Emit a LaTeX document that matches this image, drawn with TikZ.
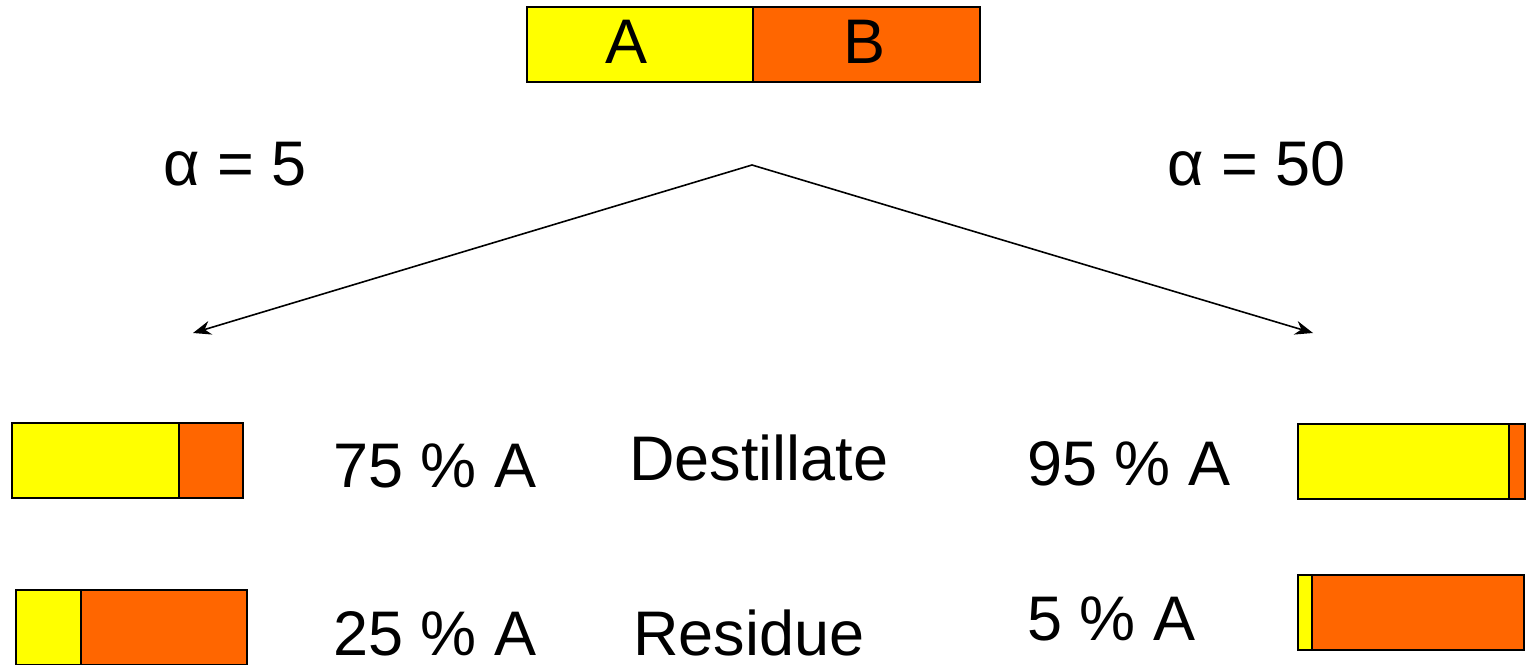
\documentclass[tikz,border=0pt]{standalone}
\usepackage{fontspec}
\setmainfont{Liberation Sans}
\usetikzlibrary{arrows.meta}
\definecolor{compA}{HTML}{FFFF00}
\definecolor{compB}{HTML}{FF6600}
\tikzset{
  seg/.style={draw=black, line width=2pt, rectangle, inner sep=0pt, anchor=north west},
  lbl/.style={inner sep=0pt, anchor=base west, font=\fontsize{63}{75}\selectfont},
  flow/.style={line width=1.6pt, -{Stealth[length=18pt,width=14pt]}}
}
\begin{document}
\begin{tikzpicture}[x=1pt,y=-1pt]
\useasboundingbox (0,0) rectangle (1531,664);
% feed mixture
\node[seg, fill=compA, minimum width=226pt, minimum height=75pt] (fa) at (526,6) {};
\node[seg, fill=compB, minimum width=227pt, minimum height=75pt] (fb) at (752,6) {};
\node[inner sep=0pt, anchor=base, font=\fontsize{63}{75}\selectfont] (la) at (627,63) {A};
\node[inner sep=0pt, anchor=base, font=\fontsize{63}{75}\selectfont] (lb) at (864,63) {B};
% split arrows
\coordinate (apex) at (752,165);
\coordinate (lt) at (193,333);
\coordinate (rt) at (1313,333);
\draw[flow] (apex) -- (lt);
\draw[flow] (apex) -- (rt);
\node[lbl] (al5) at (163,185) {α = 5};
\node[lbl] (al50) at (1167,185) {α = 50};
% alpha = 5 products
\node[seg, fill=compA, minimum width=167pt, minimum height=75pt] (d5a) at (11,422) {};
\node[seg, fill=compB, minimum width=64pt, minimum height=75pt] (d5b) at (178,422) {};
\node[seg, fill=compA, minimum width=65pt, minimum height=75pt] (r5a) at (15,589) {};
\node[seg, fill=compB, minimum width=166pt, minimum height=75pt] (r5b) at (80,589) {};
\node[lbl] (t75) at (333,487) {75 \% A};
\node[lbl] (t25) at (333,655) {25 \% A};
\node[lbl] (dest) at (629,480) {Destillate};
\node[lbl] (res) at (633,655) {Residue};
% alpha = 50 products
\node[seg, fill=compA, minimum width=211pt, minimum height=75pt] (d50a) at (1297,423) {};
\node[seg, fill=compB, minimum width=16pt, minimum height=75pt] (d50b) at (1508,423) {};
\node[seg, fill=compA, minimum width=14pt, minimum height=75pt] (r50a) at (1297,574) {};
\node[seg, fill=compB, minimum width=212pt, minimum height=75pt] (r50b) at (1311,574) {};
\node[lbl] (t95) at (1027,485) {95 \% A};
\node[lbl] (t5) at (1027,640) {5 \% A};
\end{tikzpicture}
\end{document}
